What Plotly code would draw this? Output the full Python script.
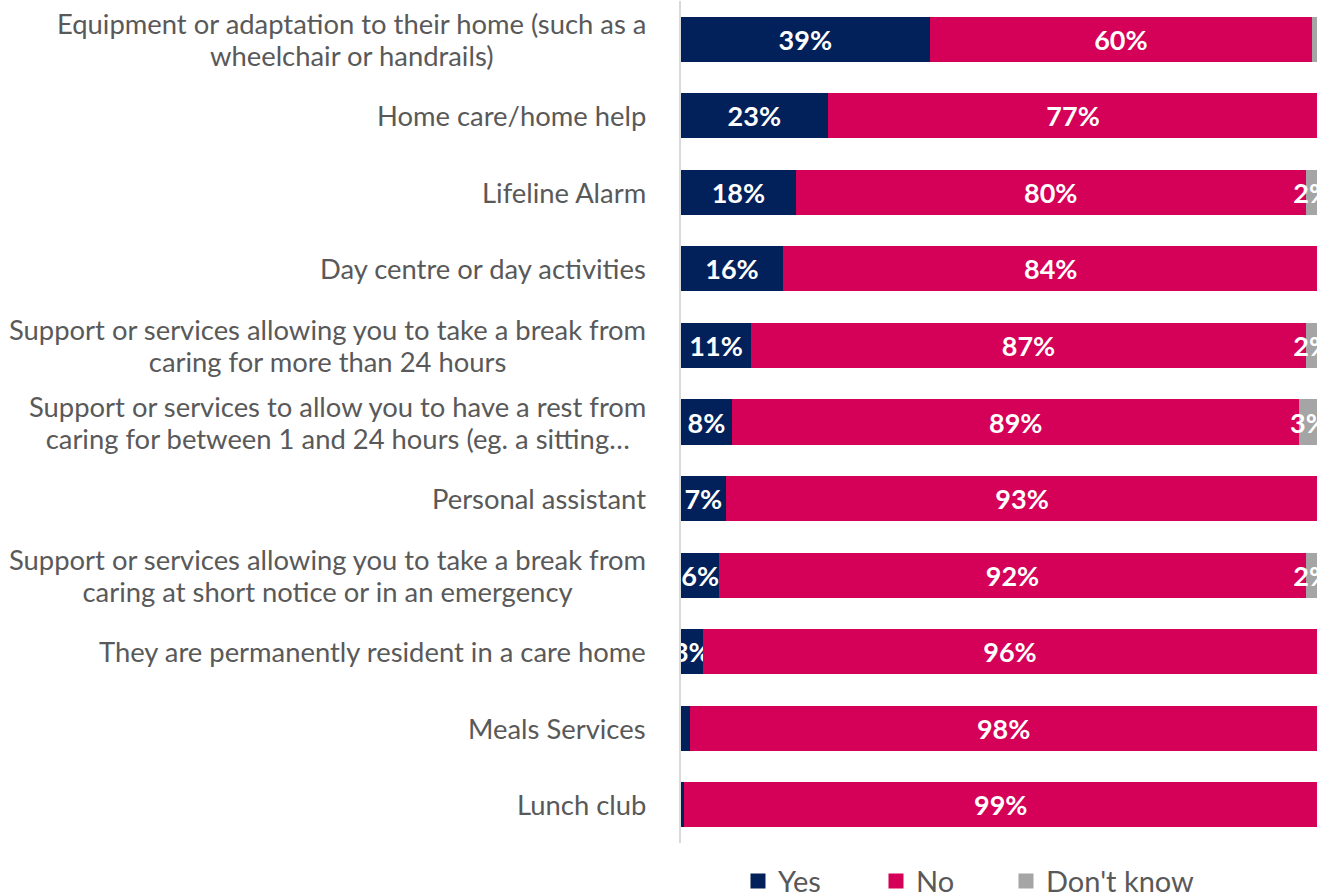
import plotly.graph_objects as go

categories = [
    "Equipment or adaptation to their home (such as a<br>wheelchair or handrails)",
    "Home care/home help",
    "Lifeline Alarm",
    "Day centre or day activities",
    "Support or services allowing you to take a break from<br>caring for more than 24 hours",
    "Support or services to allow you to have a rest from<br>caring for between 1 and 24 hours (eg. a sitting…",
    "Personal assistant",
    "Support or services allowing you to take a break from<br>caring at short notice or in an emergency",
    "They are permanently resident in a care home",
    "Meals Services",
    "Lunch club",
]
yes_vals = [39, 23, 18, 16, 11, 8, 7, 6, 3.4, 1.4, 0.5]
no_vals = [60, 77, 80, 84, 87, 89, 93, 92, 96.4, 98.4, 99.3]
dk_vals = [1, 0, 2, 0, 2, 3, 0, 2, 0.2, 0.2, 0.2]

series = [
    ("Yes", yes_vals, "#02215B"),
    ("No", no_vals, "#D50057"),
    ("Don't know", dk_vals, "#A5A5A5"),
]
legend_ids = ["legend", "legend2", "legend3"]
legend_x = [0.0896, 0.3066, 0.511]

ids = list(range(len(categories)))

fig = go.Figure()
for name, vals, color in series:
    texts = [f"{round(v)}%" if v >= 1.5 else "" for v in vals]
    fig.add_trace(go.Bar(
        name=name, y=ids, x=vals, orientation="h",
        marker=dict(color=color, line=dict(width=0)),
        text=texts, textposition="inside", insidetextanchor="middle",
        textangle=0, constraintext="none", cliponaxis=True,
        textfont=dict(family="Lato", size=27, color="white", weight="bold"),
        hoverinfo="skip", showlegend=False,
    ))
# legend-only entries with larger square symbols, one legend each
for (name, vals, color), lid in zip(series, legend_ids):
    fig.add_trace(go.Scatter(
        name=name, x=[None], y=[None], mode="markers",
        marker=dict(symbol="square", size=15, color=color),
        showlegend=True, hoverinfo="skip", legend=lid,
    ))

annotations = []
for i, cat in enumerate(categories):
    styled = "<br>".join(
        f'<span style="font-size:27.4px">{line}</span>' for line in cat.split("<br>")
    )
    annotations.append(dict(
        xref="paper", yref="y", x=0, y=i, xanchor="right", yanchor="middle",
        xshift=-33, align="center", showarrow=False, text=styled,
        font=dict(family="Lato", size=24.6, color="#595959"),
    ))

legend_common = dict(orientation="h", xanchor="left", yref="container", y=0.0156,
                     yanchor="middle", bgcolor="rgba(0,0,0,0)",
                     font=dict(family="Lato", size=29, color="#595959"),
                     itemclick=False, itemdoubleclick=False)

layout_legends = {}
for lid, lx in zip(legend_ids, legend_x):
    layout_legends[lid] = dict(x=lx, **legend_common)

fig.update_layout(
    barmode="stack", bargap=0.41,
    width=1317, height=895,
    margin=dict(l=681, r=0, t=1, b=52),
    paper_bgcolor="white", plot_bgcolor="white",
    annotations=annotations,
    showlegend=True,
    xaxis=dict(range=[0, 99.76], visible=False, fixedrange=True),
    yaxis=dict(autorange="reversed", showticklabels=False, ticks="", showgrid=False,
               zeroline=False, showline=True, linecolor="#D9D9D9", linewidth=2,
               tickmode="array", tickvals=ids, fixedrange=True),
    **layout_legends,
)

fig.write_html("out.html")
